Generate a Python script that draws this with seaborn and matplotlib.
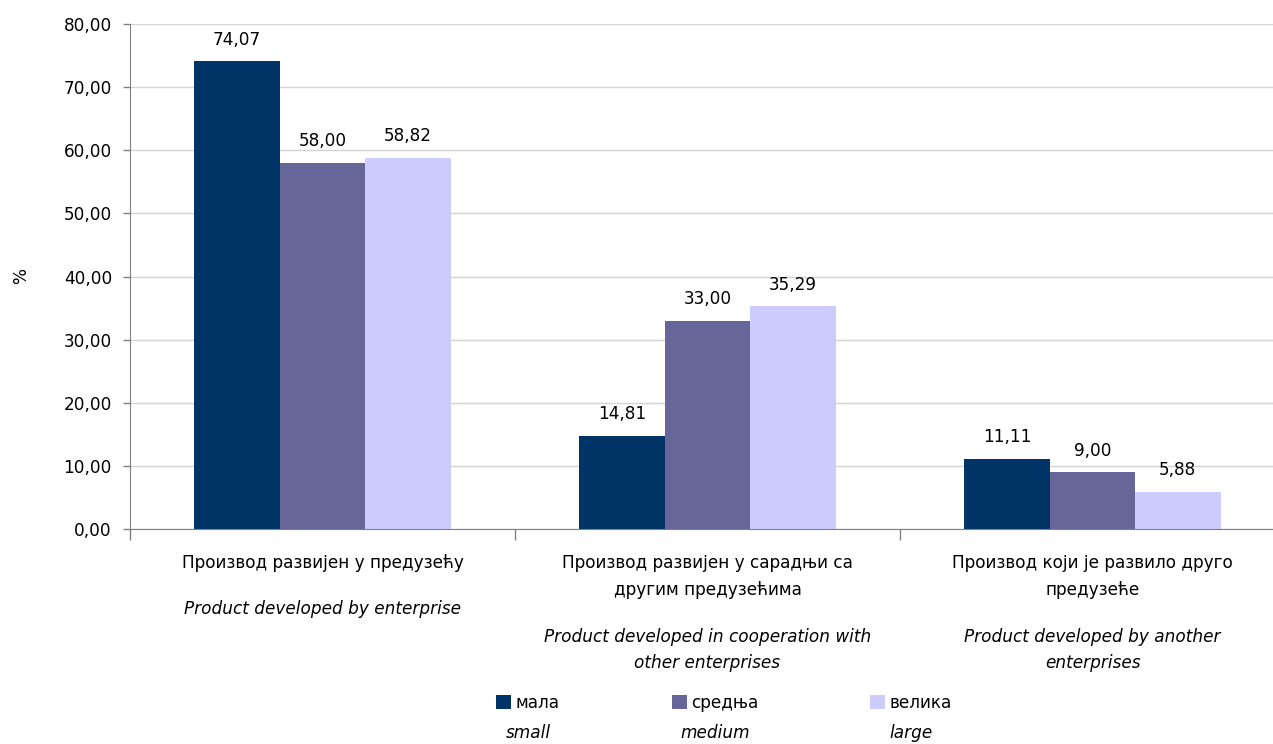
import pandas as pd
import seaborn as sns
import matplotlib.pyplot as plt
from matplotlib.patches import Patch
from matplotlib.ticker import FuncFormatter

categories_sr = ['Производ развијен у предузећу',
                 'Производ развијен у сарадњи са\nдругим предузећима',
                 'Производ који је развило друго\nпредузеће']
categories_en = ['Product developed by enterprise',
                 'Product developed in cooperation with\nother enterprises',
                 'Product developed by another\nenterprises']
sizes_sr = ['мала', 'средња', 'велика']
sizes_en = ['small', 'medium', 'large']
small = [74.07, 14.81, 11.11]
medium = [58.00, 33.00, 9.00]
large = [58.82, 35.29, 5.88]
colors = ['#003366', '#666699', '#CCCCFF']

rows = []
for i, cat in enumerate(categories_sr):
    for size, vals in zip(sizes_sr, [small, medium, large]):
        rows.append({'category': cat, 'size': size, 'value': vals[i]})
df = pd.DataFrame(rows)

sns.set_style('white')
plt.rcParams['font.family'] = ['DejaVu Sans']
plt.rcParams['text.color'] = 'black'
plt.rcParams['xtick.color'] = 'black'
plt.rcParams['ytick.color'] = 'black'
plt.rcParams['axes.labelcolor'] = 'black'
FS = 12.2

W, H = 1273, 744
fig = plt.figure(figsize=(W / 100, H / 100), dpi=100)
ax = fig.add_axes([130 / W, (H - 529) / H, (1285 - 130) / W, (529 - 24) / H])

sns.barplot(data=df, x='category', y='value', hue='size', order=categories_sr,
            hue_order=sizes_sr, palette=colors, width=0.665, gap=0,
            saturation=1, edgecolor='none', linewidth=0, ax=ax, legend=False)

for cont in ax.containers:
    ax.bar_label(cont, labels=[f'{v:.2f}'.replace('.', ',') for v in cont.datavalues],
                 padding=9, fontsize=FS, color='black')

ax.set_ylim(0, 80)
ax.set_xlim(-0.5, 2.5)
ax.set_yticks(range(0, 81, 10))
ax.yaxis.set_major_formatter(FuncFormatter(lambda v, p: f'{v:.2f}'.replace('.', ',')))
ax.set_xticks([-0.5, 0.5, 1.5, 2.5])
ax.set_xticklabels([])
ax.tick_params(axis='y', direction='out', length=5, width=1, color='#808080',
               labelsize=FS, labelcolor='black', pad=8, left=True)
ax.tick_params(axis='x', direction='out', length=8, width=1, color='#808080', bottom=True)
ax.yaxis.grid(True, color='#d4d4d4', linewidth=1)
ax.set_axisbelow(True)
for s in ['top', 'right']:
    ax.spines[s].set_visible(False)
ax.spines['left'].set_color('#808080')
ax.spines['bottom'].set_color('#808080')
ax.set_xlabel('')
ax.set_ylabel('%', fontsize=FS, labelpad=24, color='black')

# category labels: serbian first, english italic below
for i, (sr, en) in enumerate(zip(categories_sr, categories_en)):
    ax.annotate(sr, xy=(i, 0), xycoords=('data', 'axes fraction'), xytext=(0, -25),
                textcoords='offset pixels', ha='center', va='top', fontsize=FS,
                linespacing=1.62, color='black')
    n = sr.count('\n') + 1
    ax.annotate(en, xy=(i, 0), xycoords=('data', 'axes fraction'),
                xytext=(0, -25 - 28.5 * n - 17), textcoords='offset pixels',
                ha='center', va='top', fontsize=FS, style='italic', linespacing=1.55,
                color='black')

handles = [Patch(facecolor=c, edgecolor='none') for c in colors]
leg = fig.legend(handles, sizes_sr, loc='center', bbox_to_anchor=(724 / W, 1 - 703 / H),
                 ncol=3, frameon=False, fontsize=FS, handlelength=0.9, handleheight=0.9,
                 handletextpad=0.25, columnspacing=6.6, borderpad=0, borderaxespad=0)

fig.canvas.draw()
renderer = fig.canvas.get_renderer()
for patch, txt, en in zip(leg.get_patches(), leg.get_texts(), sizes_en):
    b1 = patch.get_window_extent(renderer)
    b2 = txt.get_window_extent(renderer)
    cx = (b1.x0 + b2.x1) / 2
    cy = (b2.y0 + b2.y1) / 2 - 30
    fig.text(cx / W, cy / H, en, ha='center', va='center', fontsize=FS, style='italic')

fig.savefig('out.png', dpi=100)
